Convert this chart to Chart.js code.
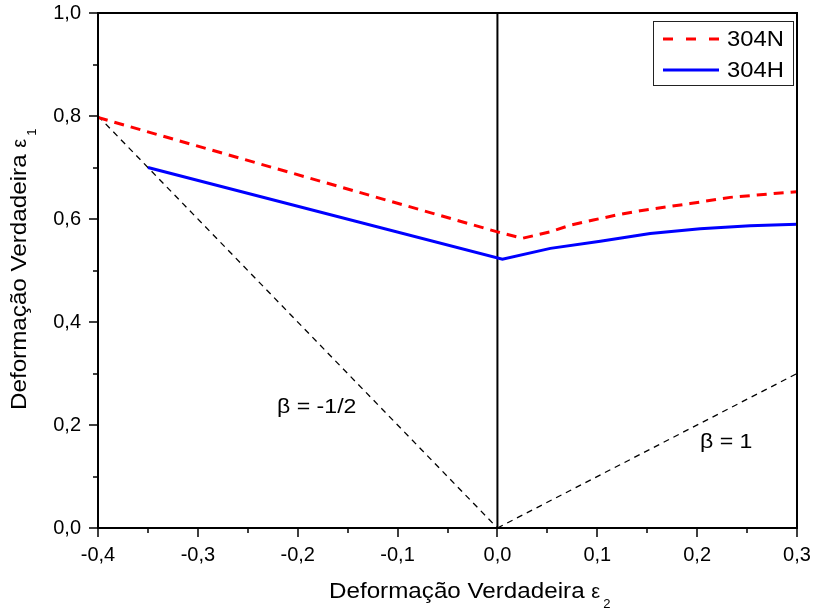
<!DOCTYPE html>
<html>
<head>
<meta charset="utf-8">
<script src="https://cdn.jsdelivr.net/npm/chart.js@4/dist/chart.umd.min.js"></script>
<style>
  html, body { margin: 0; padding: 0; background: #fff; }
  #wrap { width: 814px; height: 611px; }
</style>
</head>
<body>
<div id="wrap"><canvas id="flc"></canvas></div>
<script>
// Curva limite de conformação - aços 304N e 304H
const e2_304N = [-0.4, 0, 0.025, 0.053, 0.073, 0.096, 0.12, 0.143, 0.193, 0.233, 0.28, 0.3];
const e1_304N = [0.797, 0.575, 0.5625, 0.575, 0.588, 0.598, 0.608, 0.616, 0.630, 0.642, 0.650, 0.653];

const e2_304H = [-0.35, 0.005, 0.053, 0.103, 0.153, 0.203, 0.253, 0.3];
const e1_304H = [0.700, 0.522, 0.543, 0.557, 0.572, 0.581, 0.587, 0.590];

// linhas de referência
const betaHalfX = [-0.4, 0];
const betaHalfY = [0.8, 0];
const betaOneX = [0, 0.3];
const betaOneY = [0, 0.3];
const zeroX = [0, 0];
const zeroY = [0, 1];

const xTicks = [-0.4, -0.3, -0.2, -0.1, 0, 0.1, 0.2, 0.3];
const yTicks = [0, 0.2, 0.4, 0.6, 0.8, 1.0];

const FONT = '"Liberation Sans", Arial, sans-serif';

function pts(xs, ys) {
  return xs.map((x, i) => ({ x: x, y: ys[i] }));
}

function fmt(v) {
  if (Math.abs(v) < 1e-9) v = 0;
  return v.toFixed(1).replace('.', ',');
}

// texto com leve alargamento horizontal
function wideText(ctx, txt, x, y, size, sx) {
  ctx.save();
  ctx.translate(x, y);
  ctx.scale(sx, 1);
  ctx.font = size + 'px ' + FONT;
  ctx.fillText(txt, 0, 0);
  const w = ctx.measureText(txt).width * sx;
  ctx.restore();
  return w;
}

const decor = {
  id: 'decor',
  afterDatasetsDraw(chart) {
    const ctx = chart.ctx;
    const a = chart.chartArea;
    const xs = chart.scales.x, ys = chart.scales.y;
    ctx.save();
    ctx.fillStyle = '#000';
    ctx.strokeStyle = '#000';

    // moldura
    ctx.lineWidth = 2;
    ctx.strokeRect(a.left, a.top, a.right - a.left, a.bottom - a.top);

    // marcas dos eixos (maiores e menores)
    ctx.lineWidth = 1.5;
    ctx.beginPath();
    for (let v = -0.4; v <= 0.3001; v += 0.05) {
      const px = Math.round(xs.getPixelForValue(v));
      const major = Math.abs(v * 10 - Math.round(v * 10)) < 1e-6;
      ctx.moveTo(px, a.bottom);
      ctx.lineTo(px, a.bottom + (major ? 9 : 5));
    }
    for (let v = 0; v <= 1.0001; v += 0.1) {
      const py = Math.round(ys.getPixelForValue(v));
      const major = Math.round(v * 10) % 2 === 0;
      ctx.moveTo(a.left, py);
      ctx.lineTo(a.left - (major ? 9 : 5), py);
    }
    ctx.stroke();

    // títulos dos eixos
    ctx.textBaseline = 'alphabetic';
    let w = wideText(ctx, 'Deformação Verdadeira ', 329, 598, 22, 1.1);
    wideText(ctx, 'ε', 329 + w, 598, 20, 1.0);
    wideText(ctx, '2', 329 + w + 12, 608, 13, 1.0);

    ctx.save();
    ctx.translate(26, 410);
    ctx.rotate(-Math.PI / 2);
    w = wideText(ctx, 'Deformação Verdadeira ', 0, 0, 22, 1.1);
    wideText(ctx, 'ε', w, 0, 20, 1.0);
    wideText(ctx, '1', w + 12, 10, 13, 1.0);
    ctx.restore();

    // anotações
    wideText(ctx, 'β = -1/2', 277, 413, 21, 1.1);
    wideText(ctx, 'β = 1', 700, 448, 21, 1.1);

    // legenda
    ctx.lineWidth = 1;
    ctx.strokeStyle = '#222';
    ctx.strokeRect(653.5, 21.5, 140, 64);
    const rows = [
      { ds: chart.data.datasets[0], y: 39 },
      { ds: chart.data.datasets[1], y: 70 }
    ];
    rows.forEach(r => {
      ctx.save();
      ctx.strokeStyle = r.ds.borderColor;
      ctx.lineWidth = r.ds.borderWidth;
      ctx.setLineDash(r.ds.borderDash ? [10, 13] : []);
      ctx.beginPath();
      ctx.moveTo(663, r.y);
      ctx.lineTo(719, r.y);
      ctx.stroke();
      ctx.restore();
      ctx.textBaseline = 'middle';
      wideText(ctx, r.ds.label, 727, r.y + 1, 22, 1.08);
    });
    ctx.restore();
  }
};

new Chart(document.getElementById('flc'), {
  type: 'line',
  data: {
    datasets: [
      { label: '304N', data: pts(e2_304N, e1_304N), borderColor: '#ff0000', borderWidth: 3, borderDash: [10, 7] },
      { label: '304H', data: pts(e2_304H, e1_304H), borderColor: '#0000ff', borderWidth: 3 },
      { label: 'beta -1/2', data: pts(betaHalfX, betaHalfY), borderColor: '#000', borderWidth: 1.3, borderDash: [6, 5] },
      { label: 'beta 1', data: pts(betaOneX, betaOneY), borderColor: '#000', borderWidth: 1.3, borderDash: [6, 5] },
      { label: 'zero', data: pts(zeroX, zeroY), borderColor: '#000', borderWidth: 2 }
    ]
  },
  options: {
    responsive: true,
    maintainAspectRatio: false,
    animation: false,
    layout: { padding: { top: 13, right: 17, left: 0, bottom: 0 } },
    elements: {
      point: { radius: 0, hoverRadius: 0 },
      line: { tension: 0, fill: false, borderCapStyle: 'butt' }
    },
    plugins: { legend: { display: false }, tooltip: { enabled: false } },
    scales: {
      x: {
        type: 'linear',
        min: -0.4, max: 0.3,
        afterBuildTicks: s => { s.ticks = xTicks.map(v => ({ value: v })); },
        afterFit: s => { s.height = 83; s.paddingLeft = 0; s.paddingRight = 0; },
        grid: { display: false, drawTicks: false },
        border: { display: false },
        ticks: { color: '#000', padding: 15, maxRotation: 0, font: { family: FONT, size: 20 }, callback: v => fmt(v) }
      },
      y: {
        type: 'linear',
        min: 0, max: 1,
        afterBuildTicks: s => { s.ticks = yTicks.map(v => ({ value: v })); },
        afterFit: s => { s.width = 98; s.paddingTop = 0; s.paddingBottom = 0; },
        grid: { display: false, drawTicks: false },
        border: { display: false },
        ticks: { color: '#000', padding: 17, font: { family: FONT, size: 20 }, callback: v => fmt(v) }
      }
    }
  },
  plugins: [decor]
});
</script>
</body>
</html>
